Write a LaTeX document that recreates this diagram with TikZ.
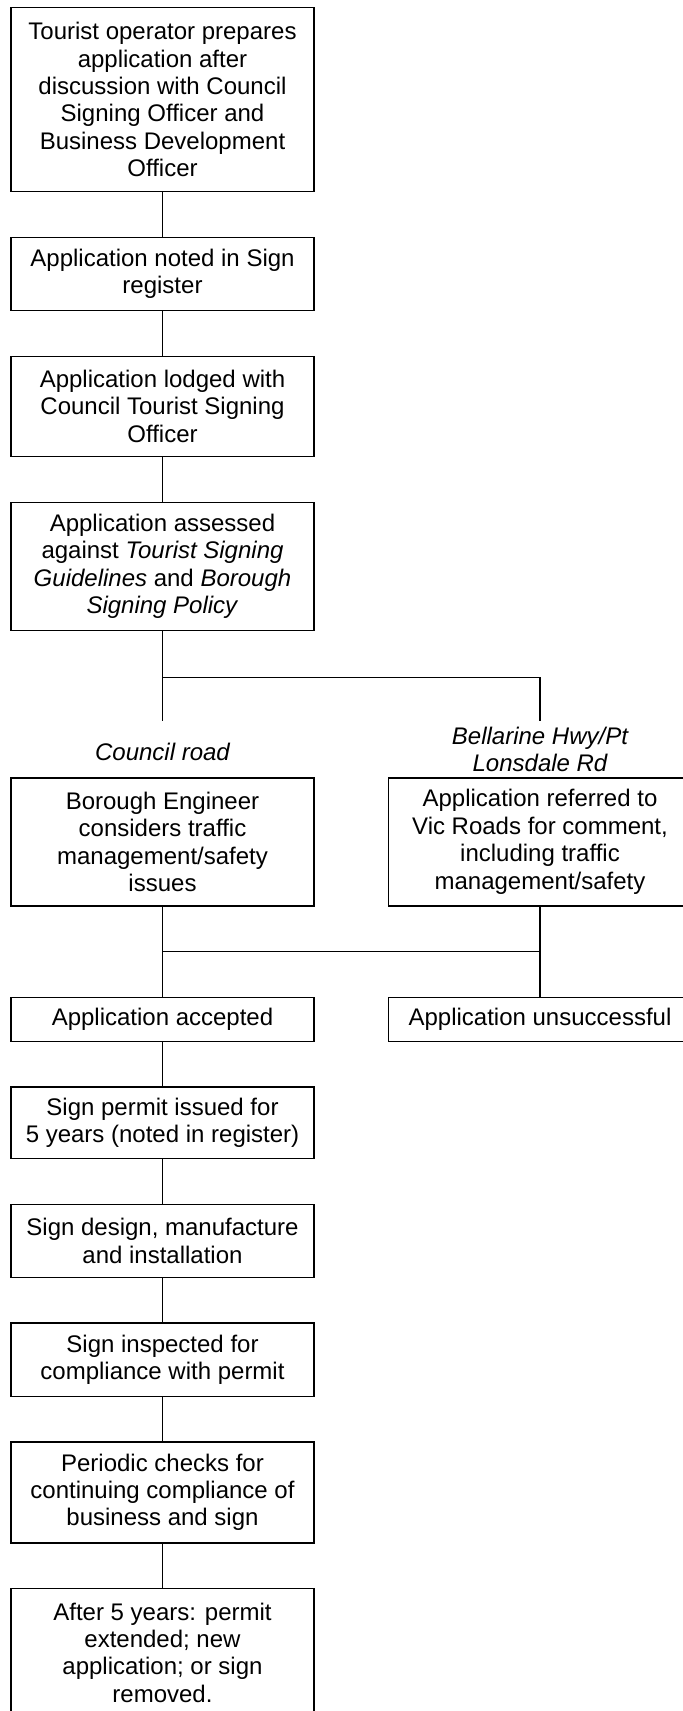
\documentclass[tikz,border=0pt]{standalone}
\usepackage{fontspec}
\setmainfont{Liberation Sans}
\begin{document}
\begin{tikzpicture}[x=0.5pt,y=-0.5pt,line width=0.7pt,every node/.style={font=\fontsize{12pt}{13.7pt}\selectfont}]
\def\lx{162.5}
\def\rx{540}
\def\bw{151.5pt}
\tikzset{box/.style={draw,minimum width=\bw,align=center,inner sep=0pt}}

\useasboundingbox (0,0) rectangle (683,1711);
\clip (0,0) rectangle (683,1711);

\node[box,minimum height=91.9pt] (prep) at (\lx,99.7) {Tourist operator prepares\\application after\\discussion with Council\\Signing Officer and\\Business Development\\Officer};
\node[box,minimum height=36.6pt] (noted) at (\lx,274) {Application noted in Sign\\register};
\node[box,minimum height=50.1pt] (lodged) at (\lx,406.4) {Application lodged with\\Council Tourist Signing\\Officer};
\node[box,minimum height=64pt] (assessed) at (\lx,566.3) {Application assessed\\against \textit{Tourist Signing}\\\textit{Guidelines} and \textit{Borough}\\\textit{Signing Policy}};

% branch
\coordinate (splitL) at (\lx,677.2);
\coordinate (splitR) at (\rx,677.2);
\coordinate (endL) at (\lx,721);
\coordinate (endR) at (\rx,721);
\draw (assessed) -- (splitL);
\draw (splitL) -- (splitR);
\draw (splitL) -- (endL);
\draw (splitR) -- (endR);

\node[font=\fontsize{12pt}{13.7pt}\selectfont\itshape] (roadL) at (\lx,751.6) {Council road};
\node[font=\fontsize{12pt}{13.7pt}\selectfont\itshape,align=center] (roadR) at (\rx,749.2) {Bellarine Hwy/Pt\\Lonsdale Rd};

\node[box,minimum height=64pt] (engineer) at (\lx,841.8) {Borough Engineer\\considers traffic\\management/safety\\issues};
\node[box,minimum height=64pt] (vicroads) at (\rx,841.8) {Application referred to\\Vic Roads for comment,\\including traffic\\management/safety};

% merge
\coordinate (mergeL) at (\lx,951.5);
\coordinate (mergeR) at (\rx,951.5);
\node[box,minimum height=22pt] (accepted) at (\lx,1019.2) {Application accepted};
\node[box,minimum height=22pt] (refused) at (\rx,1019.2) {Application unsuccessful};
\draw (engineer) -- (mergeL) -- (accepted);
\draw (vicroads) -- (mergeR) -- (refused);
\draw (mergeL) -- (mergeR);

\node[box,minimum height=35.9pt] (permit) at (\lx,1122.7) {Sign permit issued for\\5 years (noted in register)};
\node[box,minimum height=36.5pt] (design) at (\lx,1241) {Sign design, manufacture\\and installation};
\node[box,minimum height=36.8pt] (inspect) at (\lx,1359.7) {Sign inspected for\\compliance with permit};
\node[box,minimum height=50.5pt] (checks) at (\lx,1492.3) {Periodic checks for\\continuing compliance of\\business and sign};
\node[box,minimum height=64pt] (renew) at (\lx,1652.6) {After 5 years: permit\\extended; new\\application; or sign\\removed.};

\draw (prep) -- (noted);
\draw (noted) -- (lodged);
\draw (lodged) -- (assessed);
\draw (accepted) -- (permit);
\draw (permit) -- (design);
\draw (design) -- (inspect);
\draw (inspect) -- (checks);
\draw (checks) -- (renew);
\end{tikzpicture}
\end{document}
